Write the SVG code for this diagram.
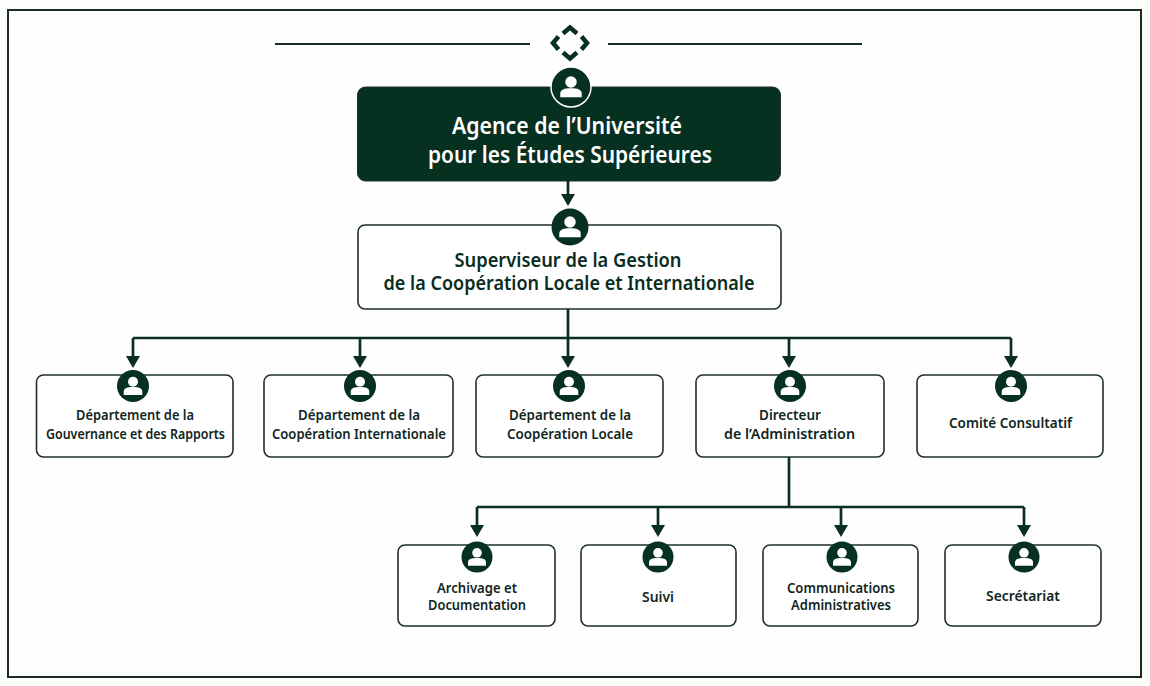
<svg xmlns="http://www.w3.org/2000/svg" width="1150" height="686" viewBox="0 0 1150 686">
<style>
text{font-family:"Noto Sans","Open Sans","Liberation Sans",sans-serif;text-anchor:middle;fill:#10261e;font-weight:500}
.box{fill:#fff;stroke:#1d3029;stroke-width:1.6}
.c{fill:none;stroke:#0a2f22;stroke-width:2.700}
.t3{font-size:14px;font-weight:600}
.t2{font-size:19px;font-weight:600;fill:#0a2c20}
.t1{font-size:22.5px;font-weight:600;fill:#fff}
</style>
<defs>
<g id="p"><circle r="1" fill="#06301f"/><circle cy="-0.27" r="0.31" fill="#fff"/><path d="M-0.58 0.56V0.36C-0.58 0.14-0.36 0.07 0 0.07S0.58 0.14 0.58 0.36V0.56Z" fill="#fff"/></g>
<path id="h" d="M-7-12H7L0 0Z" fill="#0a2f22"/>
</defs>
<rect width="1150" height="686" fill="#fdfdfc"/>
<rect x="8" y="10" width="1133" height="667" fill="#fefefd" stroke="#1c2b26" stroke-width="2"/>
<g id="header">
<path d="M275 44H530M608 44H862" stroke="#1c2b26" stroke-width="1.800" fill="none"/>
<path d="M563 33.500L570 27.500L577 33.500M581.500 36.500L587 43L581.500 49.500M577 52.500L570 58.500L563 52.500M558.500 49.500L553 43L558.500 36.500" fill="none" stroke="#06301f" stroke-width="4.500"/>
</g>
<g id="connectors">
<path class="c" d="M568 181V196M568 309V362M133 338H1011M133 338V358M360 338V358M789 338V358M1011 338V358M789 457V507M477 507H1024M477 507V527M658 507V527M841 507V527M1024 507V527"/>
<use href="#h" x="568" y="206"/><use href="#h" x="133" y="368"/><use href="#h" x="360" y="368"/><use href="#h" x="568" y="368"/><use href="#h" x="789" y="368"/><use href="#h" x="1011" y="368"/>
<use href="#h" x="477" y="537"/><use href="#h" x="658" y="537"/><use href="#h" x="841" y="537"/><use href="#h" x="1024" y="537"/>
</g>
<g id="n1"><rect x="357.500" y="87" width="423" height="94" rx="8" fill="#06301f" stroke="#1d3029"/><circle cx="571" cy="87" r="20" fill="#06301f" stroke="#fff" stroke-width="1.500"/><use href="#p" transform="translate(571 87) scale(18.500)"/><text class="t1" x="567" y="134" textLength="230" lengthAdjust="spacingAndGlyphs">Agence de l’Université</text><text class="t1" x="570" y="163" textLength="284" lengthAdjust="spacingAndGlyphs">pour les Études Supérieures</text></g>
<g id="n2"><rect class="box" x="358" y="225" width="423" height="84" rx="7"/><use href="#p" transform="translate(570 227) scale(18.500)"/><text class="t2" x="568" y="266.500" textLength="227" lengthAdjust="spacingAndGlyphs">Superviseur de la Gestion</text><text class="t2" x="569" y="290" textLength="371" lengthAdjust="spacingAndGlyphs">de la Coopération Locale et Internationale</text></g>
<g id="n3"><rect class="box" x="36.500" y="375" width="196.500" height="82" rx="7"/><use href="#p" transform="translate(133 386) scale(16)"/><text class="t3" x="135" y="420" textLength="118" lengthAdjust="spacingAndGlyphs">Département de la</text><text class="t3" x="135.500" y="439" textLength="179" lengthAdjust="spacingAndGlyphs">Gouvernance et des Rapports</text></g>
<g id="n4"><rect class="box" x="264" y="375" width="189" height="82" rx="7"/><use href="#p" transform="translate(360 386) scale(16)"/><text class="t3" x="359" y="420" textLength="122" lengthAdjust="spacingAndGlyphs">Département de la</text><text class="t3" x="359" y="439" textLength="174" lengthAdjust="spacingAndGlyphs">Coopération Internationale</text></g>
<g id="n5"><rect class="box" x="476" y="375" width="187" height="82" rx="7"/><use href="#p" transform="translate(569 386) scale(16)"/><text class="t3" x="570" y="420" textLength="122" lengthAdjust="spacingAndGlyphs">Département de la</text><text class="t3" x="570" y="439" textLength="126" lengthAdjust="spacingAndGlyphs">Coopération Locale</text></g>
<g id="n6"><rect class="box" x="696" y="375" width="188" height="82" rx="7"/><use href="#p" transform="translate(790 386) scale(16)"/><text class="t3" x="790" y="420" textLength="62" lengthAdjust="spacingAndGlyphs">Directeur</text><text class="t3" x="789.500" y="439" textLength="131" lengthAdjust="spacingAndGlyphs">de l’Administration</text></g>
<g id="n7"><rect class="box" x="917" y="375" width="186" height="82" rx="7"/><use href="#p" transform="translate(1011 386) scale(16)"/><text class="t3" x="1010.500" y="428" textLength="123" lengthAdjust="spacingAndGlyphs">Comité Consultatif</text></g>
<g id="n8"><rect class="box" x="398" y="545" width="157" height="81" rx="7"/><use href="#p" transform="translate(477 557) scale(15.500)"/><text class="t3" x="477" y="593" textLength="80" lengthAdjust="spacingAndGlyphs">Archivage et</text><text class="t3" x="477" y="610" textLength="98" lengthAdjust="spacingAndGlyphs">Documentation</text></g>
<g id="n9"><rect class="box" x="581" y="545" width="155" height="81" rx="7"/><use href="#p" transform="translate(658 557) scale(15.500)"/><text class="t3" x="658" y="602" textLength="32" lengthAdjust="spacingAndGlyphs">Suivi</text></g>
<g id="n10"><rect class="box" x="763" y="545" width="155" height="81" rx="7"/><use href="#p" transform="translate(842 557) scale(15.500)"/><text class="t3" x="841" y="593" textLength="108" lengthAdjust="spacingAndGlyphs">Communications</text><text class="t3" x="841" y="610" textLength="100" lengthAdjust="spacingAndGlyphs">Administratives</text></g>
<g id="n11"><rect class="box" x="945" y="545" width="156" height="81" rx="7"/><use href="#p" transform="translate(1024 557) scale(15.500)"/><text class="t3" x="1023" y="601" textLength="74" lengthAdjust="spacingAndGlyphs">Secrétariat</text></g>
</svg>
